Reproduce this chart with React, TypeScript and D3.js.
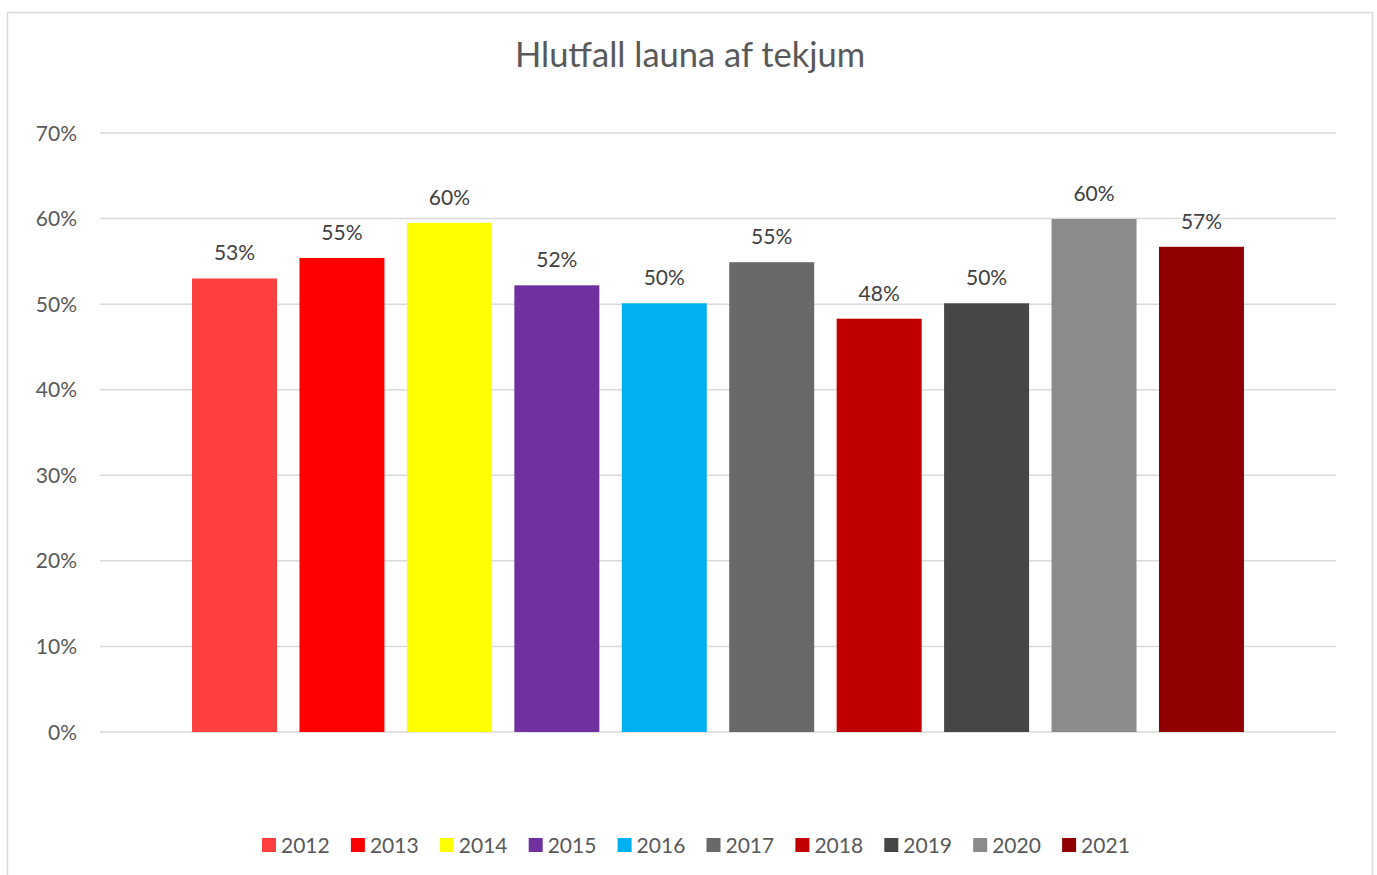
import React from "react";
import * as d3 from "d3";

const years = ["2012", "2013", "2014", "2015", "2016", "2017", "2018", "2019", "2020", "2021"];
const values = [0.53, 0.554, 0.595, 0.522, 0.501, 0.549, 0.483, 0.501, 0.5995, 0.567];
const labels = ["53%", "55%", "60%", "52%", "50%", "55%", "48%", "50%", "60%", "57%"];
const colors = ["#FF4040", "#FF0000", "#FFFF00", "#7030A0", "#00B0F0", "#696969", "#C00000", "#464646", "#8B8B8B", "#900000"];
const yTicks = [0, 0.1, 0.2, 0.3, 0.4, 0.5, 0.6, 0.7];
const title = "Hlutfall launa af tekjum";

const W = 1377;
const H = 875;
const FONT = "Lato, 'Open Sans', sans-serif";

export default function App() {
  const plotLeft = 100;
  const plotRight = 1336;
  const y = d3.scaleLinear().domain([0, 0.7]).range([732, 133]);
  const x = d3
    .scaleBand<string>()
    .domain(years)
    .range([180.8, 1255.2])
    .paddingInner(0.209)
    .paddingOuter(0.1045);
  const fmt = d3.format(".0%");

  return (
    <svg width={W} height={H} style={{ position: "absolute", left: 0, top: 0, background: "#fff" }} fontFamily={FONT}>
      <rect x={7.5} y={12.5} width={1365} height={872} fill="#fff" stroke="#D9D9D9" strokeWidth={1.5} />
      <text x={690} y={67} textAnchor="middle" fontSize={34.5} fill="#595959">
        {title}
      </text>
      {yTicks.map((t) => (
        <g key={t}>
          <line x1={plotLeft} x2={plotRight} y1={y(t)} y2={y(t)} stroke="#D9D9D9" strokeWidth={1.5} />
          <text x={77} y={y(t) + 7.5} textAnchor="end" fontSize={21} fill="#595959">
            {fmt(t)}
          </text>
        </g>
      ))}
      {years.map((yr, i) => (
        <g key={yr}>
          <rect x={x(yr)} y={y(values[i])} width={x.bandwidth()} height={y(0) - y(values[i])} fill={colors[i]} />
          <text
            x={(x(yr) as number) + x.bandwidth() / 2}
            y={y(values[i]) - 18}
            textAnchor="middle"
            fontSize={21}
            fill="#404040"
          >
            {labels[i]}
          </text>
        </g>
      ))}
      {years.map((yr, i) => {
        const lx = 262 + i * 88.9;
        return (
          <g key={"lg" + yr}>
            <rect x={lx} y={838} width={14} height={14} fill={colors[i]} />
            <text x={lx + 19} y={852.5} fontSize={21} fill="#595959">
              {yr}
            </text>
          </g>
        );
      })}
    </svg>
  );
}
